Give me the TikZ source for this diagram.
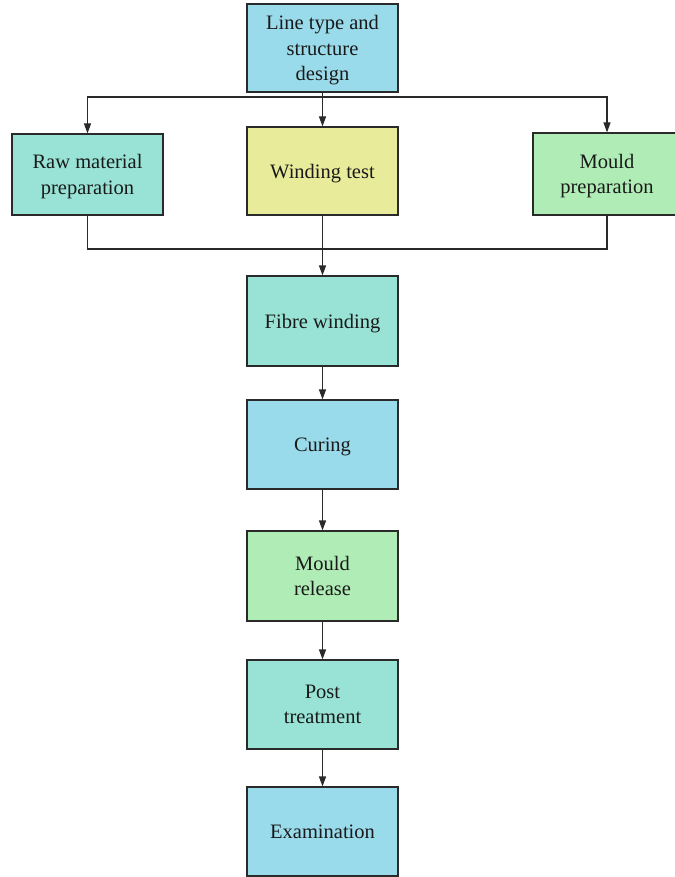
\documentclass[tikz,border=0pt]{standalone}
\usepackage{fontspec}
\setmainfont{Liberation Serif}
\usetikzlibrary{arrows.meta}
\definecolor{cblue}{HTML}{9ADBEB}
\definecolor{cteal}{HTML}{98E3D6}
\definecolor{cyel}{HTML}{E8EC9A}
\definecolor{cgreen}{HTML}{B0EDB6}
\definecolor{cline}{HTML}{2A2A2A}
\begin{document}
\begin{tikzpicture}[x=1pt,y=-1pt,
  box/.style={draw=cline,line width=1.1pt,align=center,inner sep=0pt,text depth=-2.5pt,
    font=\fontsize{20.5}{25.5}\selectfont,text=black!90},
  conn/.style={draw=cline,line width=1.1pt},
  arr/.style={conn,-{Triangle[length=10pt,width=7pt]}}]
\useasboundingbox (0,0) rectangle (674,877);
\node[box,fill=cblue,minimum width=151pt,minimum height=88pt] (top) at (322.5,48) {Line type and\\structure\\design};
\node[box,fill=cteal,minimum width=151pt,minimum height=81pt] (raw) at (87.5,174.5) {Raw material\\preparation};
\node[box,fill=cyel,minimum width=151pt,minimum height=88pt] (wind) at (322.5,171) {Winding test};
\node[box,fill=cgreen,minimum width=148pt,minimum height=82pt] (mould) at (607,174) {Mould\\preparation};
\node[box,fill=cteal,minimum width=151pt,minimum height=90pt] (fibre) at (322.5,321) {Fibre winding};
\node[box,fill=cblue,minimum width=151pt,minimum height=89pt] (cure) at (322.5,444.5) {Curing};
\node[box,fill=cgreen,minimum width=151pt,minimum height=90pt] (rel) at (322.5,576) {Mould\\release};
\node[box,fill=cteal,minimum width=151pt,minimum height=89pt] (post) at (322.5,704.5) {Post\\treatment};
\node[box,fill=cblue,minimum width=151pt,minimum height=89pt] (exam) at (322.5,831.5) {Examination};
\coordinate (tj) at (322.5,97);
\coordinate (bj) at (322.5,249);
\draw[conn] (top.south) -- (tj);
\draw[arr] (tj) -- (wind.north);
\draw[arr] (tj) -| (raw.north);
\draw[arr] (tj) -| (mould.north);
\draw[conn] (raw.south) |- (bj);
\draw[conn] (mould.south) |- (bj);
\draw[conn] (wind.south) -- (bj);
\draw[arr] (bj) -- (fibre.north);
\draw[arr] (fibre) -- (cure);
\draw[arr] (cure) -- (rel);
\draw[arr] (rel) -- (post);
\draw[arr] (post) -- (exam);
\end{tikzpicture}
\end{document}
